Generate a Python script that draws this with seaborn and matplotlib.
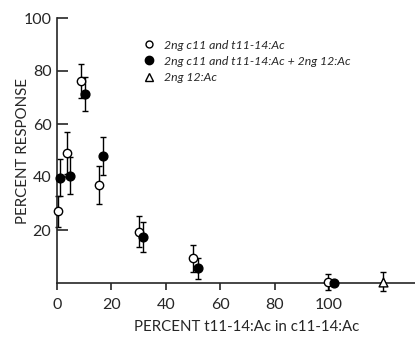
import matplotlib
matplotlib.use('Agg')
import matplotlib.pyplot as plt
import seaborn as sns
import pandas as pd
from matplotlib.lines import Line2D

# Data
open_x = [0.5, 3.6, 8.7, 15.3, 30.0, 49.9, 99.7]
open_y = [27.0, 49.0, 76.3, 37.0, 19.4, 9.3, 0.5]
open_err = [6.0, 8.0, 6.5, 7.2, 6.0, 5.0, 3.0]

filled_x = [1.1, 4.8, 10.4, 17.0, 31.7, 52.0, 101.8]
filled_y = [39.7, 40.4, 71.3, 48.0, 17.5, 5.5, 0.0]
filled_err = [7.0, 7.0, 6.5, 7.2, 5.7, 4.0, 0.0]

tri_x = [120.0]
tri_y = [0.5]
tri_err = [3.5]

labels = ['2ng c11 and t11-14:Ac',
          '2ng c11 and t11-14:Ac + 2ng 12:Ac',
          '2ng 12:Ac']

sns.set_style('ticks')
plt.rcParams['font.family'] = ['Lato', 'DejaVu Sans']

fig = plt.figure(figsize=(4.15, 3.37), dpi=100)
ax = fig.add_axes([57 / 415, 54 / 337, 1 - 57 / 415, 265 / 337])

# Error bars first
for xs, ys, es in [(open_x, open_y, open_err), (filled_x, filled_y, filled_err), (tri_x, tri_y, tri_err)]:
    ax.errorbar(xs, ys, yerr=es, fmt='none', ecolor='black', elinewidth=1.0,
                capsize=2.5, capthick=1.0, clip_on=False, zorder=2)

df_open = pd.DataFrame({'x': open_x, 'y': open_y})
df_filled = pd.DataFrame({'x': filled_x, 'y': filled_y})
df_tri = pd.DataFrame({'x': tri_x, 'y': tri_y})

sns.scatterplot(data=df_open, x='x', y='y', ax=ax, marker='o', s=36,
                facecolor='white', edgecolor='black', linewidth=1.0, zorder=3, clip_on=False)
sns.scatterplot(data=df_filled, x='x', y='y', ax=ax, marker='o', s=40,
                color='black', edgecolor='black', linewidth=1.0, zorder=4, clip_on=False)
sns.scatterplot(data=df_tri, x='x', y='y', ax=ax, marker='^', s=40,
                facecolor='white', edgecolor='black', linewidth=1.0, zorder=3, clip_on=False)

ax.set_xlim(0, 131.6)
ax.set_ylim(0, 100)
sns.despine(ax=ax)
ax.spines['left'].set_linewidth(1.2)
ax.spines['bottom'].set_linewidth(1.2)

ax.set_xticks([0, 20, 40, 60, 80, 100])
ax.set_yticks([20, 40, 60, 80, 100])
ax.tick_params(axis='x', direction='out', length=5, width=1.2, labelsize=11.5, pad=6)
ax.tick_params(axis='y', direction='in', length=8, width=1.2, labelsize=11.5, pad=4)

ax.set_xlabel('PERCENT t11-14:Ac in c11-14:Ac', fontsize=10.8)
ax.xaxis.set_label_coords(0.53, -0.14)
ax.set_ylabel('PERCENT RESPONSE', fontsize=10.8)
ax.yaxis.set_label_coords(-0.076, 0.5)

handles = [
    Line2D([], [], marker='o', linestyle='none', markersize=5, markerfacecolor='white', markeredgecolor='black'),
    Line2D([], [], marker='o', linestyle='none', markersize=6, markerfacecolor='black', markeredgecolor='black'),
    Line2D([], [], marker='^', linestyle='none', markersize=6, markerfacecolor='white', markeredgecolor='black'),
]
leg = ax.legend(handles, labels, loc='upper left', bbox_to_anchor=(0.217, 0.96), frameon=False,
                handlelength=0.6, handletextpad=0.9, labelspacing=0.42,
                prop={'style': 'italic', 'size': 8.8})

fig.savefig('out.png', dpi=100)
